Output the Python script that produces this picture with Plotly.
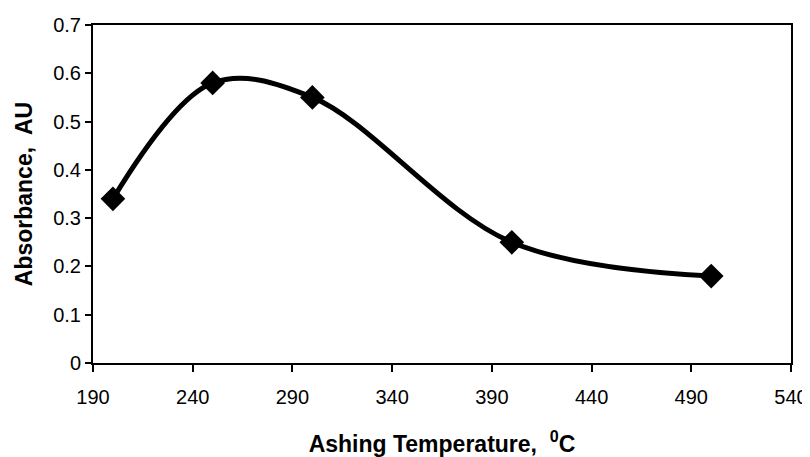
import plotly.graph_objects as go

temperature = [200, 250, 300, 400, 500]
absorbance = [0.34, 0.58, 0.55, 0.25, 0.18]

x_ticks = [190, 240, 290, 340, 390, 440, 490, 540]
y_ticks = [0, 0.1, 0.2, 0.3, 0.4, 0.5, 0.6, 0.7]
y_tick_labels = ["0", "0.1", "0.2", "0.3", "0.4", "0.5", "0.6", "0.7"]

fig = go.Figure()
fig.add_trace(go.Scatter(
    x=temperature, y=absorbance,
    mode="lines+markers",
    line=dict(color="black", width=5, shape="spline", smoothing=1.0),
    marker=dict(symbol="diamond", size=19, color="black"),
    showlegend=False,
))

font_family = "Liberation Sans, Arial, sans-serif"

# page body has an 8px default margin, so the figure is sized to fit the window
fig.update_layout(
    width=802, height=449,
    margin=dict(l=85, r=19, t=17, b=94),
    paper_bgcolor="white", plot_bgcolor="white",
    font=dict(family=font_family, color="black"),
)
fig.update_xaxes(
    range=[190, 540], automargin=False,
    tickmode="array", tickvals=x_ticks, ticktext=[str(v) for v in x_ticks],
    tickfont=dict(size=20, family=font_family, color="black"),
    ticks="outside", ticklen=7, tickwidth=1.5, tickcolor="black",
    ticklabelstandoff=8,
    showline=True, linecolor="black", linewidth=2, mirror=True,
    showgrid=False, zeroline=False,
    title=dict(text="<b>Ashing Temperature,  <sup>0</sup>C</b>",
               font=dict(size=23, family=font_family, color="black"),
               standoff=31),
)
fig.update_yaxes(
    range=[0, 0.7], automargin=False,
    tickmode="array", tickvals=y_ticks, ticktext=y_tick_labels,
    tickfont=dict(size=20, family=font_family, color="black"),
    ticks="outside", ticklen=6, tickwidth=1.5, tickcolor="black",
    ticklabelstandoff=0,
    showline=True, linecolor="black", linewidth=2, mirror=True,
    showgrid=False, zeroline=False,
    title=dict(text="<b>Absorbance,  AU</b>",
               font=dict(size=23, family=font_family, color="black"),
               standoff=14),
)

fig.write_html("out.html")
